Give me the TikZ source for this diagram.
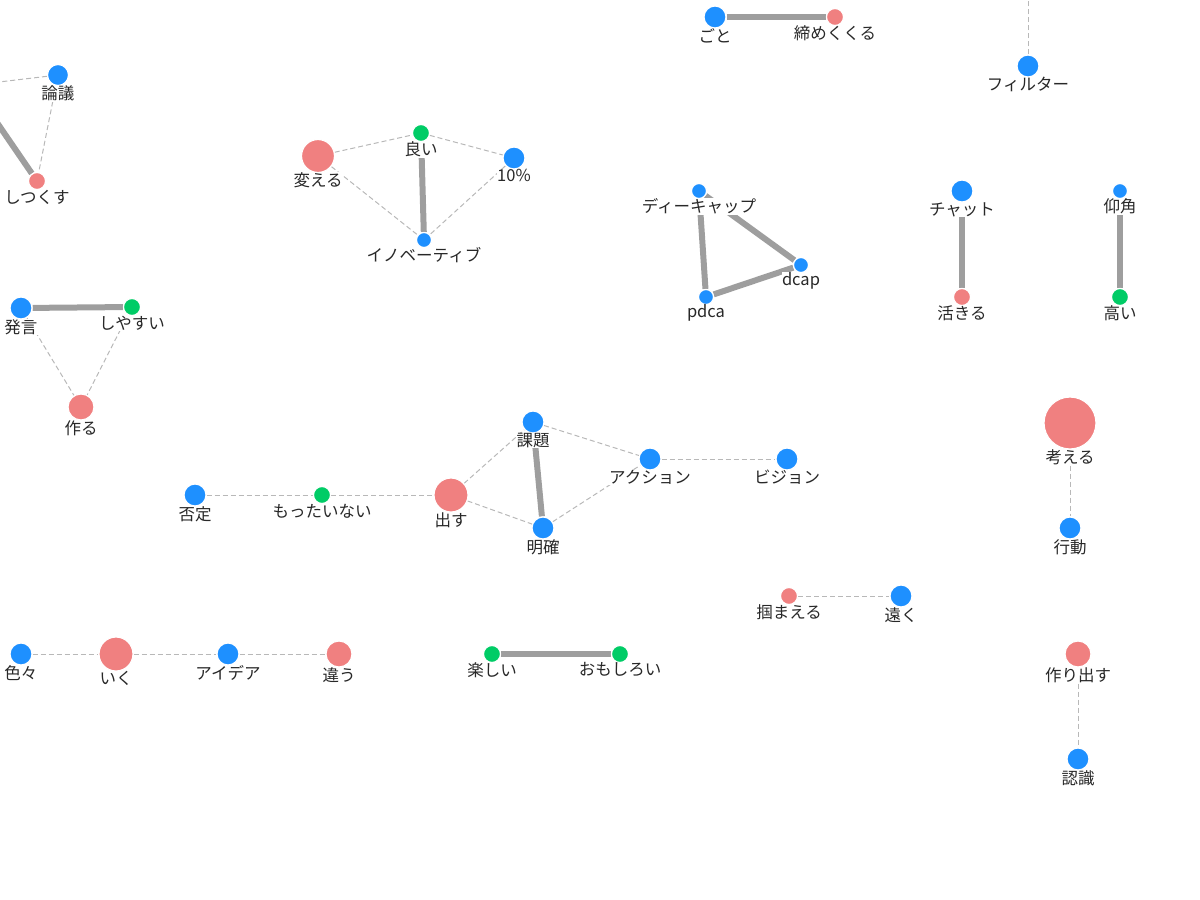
\documentclass[tikz,border=0pt]{standalone}
\usepackage{fontspec}
\newfontfamily\jpfont{Noto Sans CJK JP}
\usetikzlibrary{backgrounds}
\definecolor{nblue}{RGB}{30,144,255}
\definecolor{nred}{RGB}{240,128,128}
\definecolor{ngreen}{RGB}{0,204,102}
\definecolor{ltext}{RGB}{40,40,40}
\tikzset{
  wnode/.style={circle, fill=#1, draw=white, line width=1.2pt, inner sep=0pt},
  lbl/.style={font=\jpfont\fontsize{16.5}{17}\selectfont, text=ltext, fill=white, inner sep=0.5pt},
  every label/.style={lbl},
  label distance=-1pt,
  strong/.style={draw=black!38, line width=6pt},
  weak/.style={draw=black!28, line width=1pt, dash pattern=on 5pt off 3pt}
}
\begin{document}
\begin{tikzpicture}[x=1pt, y=-1pt]
  \useasboundingbox (0,0) rectangle (1200,900);
  % top left
  \node [wnode=nblue, minimum size=21pt, label=below:論議] (rongi) at (58,75) {};
  \node [wnode=nred, minimum size=17pt, label=below:しつくす] (tsukusu) at (37,181) {};
  \coordinate (offrongi) at (-60,89);
  \coordinate (offtsukusu) at (-37,73);
  % kaeru group
  \node [wnode=nred, minimum size=33pt, label=below:変える] (kaeru) at (318,156) {};
  \node [wnode=ngreen, minimum size=17pt, label=below:良い] (yoi) at (421,133) {};
  \node [wnode=nblue, minimum size=22pt, label=below:10\%] (pct) at (514,158) {};
  \node [wnode=nblue, minimum size=15pt, label=below:イノベーティブ] (inno) at (424,240) {};
  % top middle / right
  \node [wnode=nblue, minimum size=22pt, label=below:ごと] (goto) at (715,17) {};
  \node [wnode=nred, minimum size=17pt, label=below:締めくくる] (shime) at (835,17) {};
  \node [wnode=nblue, minimum size=22pt, label=below:フィルター] (filter) at (1028,66) {};
  \coordinate (offfilter) at (1028,-40);
  \node [wnode=nblue, minimum size=15pt, label=below:ディーキャップ] (dcapjp) at (699,191) {};
  \node [wnode=nblue, minimum size=15pt, label=below:pdca] (pdca) at (706,297) {};
  \node [wnode=nblue, minimum size=15pt, label=below:dcap] (dcap) at (801,265) {};
  \node [wnode=nblue, minimum size=22pt, label=below:チャット] (chat) at (962,191) {};
  \node [wnode=nred, minimum size=17pt, label=below:活きる] (ikiru) at (962,297) {};
  \node [wnode=nblue, minimum size=15pt, label=below:仰角] (gyoukaku) at (1120,191) {};
  \node [wnode=ngreen, minimum size=17pt, label=below:高い] (takai) at (1120,297) {};
  % hatsugen group
  \node [wnode=nblue, minimum size=22pt, label=below:発言] (hatsugen) at (21,308) {};
  \node [wnode=ngreen, minimum size=17pt, label=below:しやすい] (shiyasui) at (132,307) {};
  \node [wnode=nred, minimum size=26pt, label=below:作る] (tsukuru) at (81,407) {};
  % kangaeru
  \node [wnode=nred, minimum size=52pt, label=below:考える] (kangaeru) at (1070,423) {};
  \node [wnode=nblue, minimum size=22pt, label=below:行動] (koudou) at (1070,528) {};
  % dasu group
  \node [wnode=nblue, minimum size=22pt, label=below:否定] (hitei) at (195,495) {};
  \node [wnode=ngreen, minimum size=17pt, label=below:もったいない] (mottai) at (322,495) {};
  \node [wnode=nred, minimum size=34pt, label=below:出す] (dasu) at (451,495) {};
  \node [wnode=nblue, minimum size=22pt, label=below:課題] (kadai) at (533,422) {};
  \node [wnode=nblue, minimum size=22pt, label=below:明確] (meikaku) at (543,528) {};
  \node [wnode=nblue, minimum size=22pt, label=below:アクション] (action) at (650,459) {};
  \node [wnode=nblue, minimum size=22pt, label=below:ビジョン] (vision) at (787,459) {};
  % lower row
  \node [wnode=nred, minimum size=17pt, label=below:掴まえる] (tsukamaeru) at (789,596) {};
  \node [wnode=nblue, minimum size=22pt, label=below:遠く] (tooku) at (901,596) {};
  \node [wnode=nblue, minimum size=22pt, label=below:色々] (iroiro) at (21,654) {};
  \node [wnode=nred, minimum size=34pt, label=below:いく] (iku) at (116,654) {};
  \node [wnode=nblue, minimum size=22pt, label=below:アイデア] (idea) at (228,654) {};
  \node [wnode=nred, minimum size=26pt, label=below:違う] (chigau) at (339,654) {};
  \node [wnode=ngreen, minimum size=17pt, label=below:楽しい] (tanoshii) at (492,654) {};
  \node [wnode=ngreen, minimum size=17pt, label=below:おもしろい] (omoshiroi) at (620,654) {};
  \node [wnode=nred, minimum size=26pt, label=below:作り出す] (tsukuridasu) at (1078,654) {};
  \node [wnode=nblue, minimum size=22pt, label=below:認識] (ninshiki) at (1078,759) {};
  \begin{scope}[on background layer]
    \draw [weak] (rongi) -- (offrongi);
    \draw [strong] (tsukusu) -- (offtsukusu);
    \draw [weak] (rongi) -- (tsukusu);
    \draw [weak] (kaeru) -- (yoi);
    \draw [weak] (yoi) -- (pct);
    \draw [weak] (kaeru) -- (inno);
    \draw [weak] (pct) -- (inno);
    \draw [strong] (yoi) -- (inno);
    \draw [strong] (goto) -- (shime);
    \draw [weak] (filter) -- (offfilter);
    \draw [strong] (dcapjp) -- (pdca);
    \draw [strong] (pdca) -- (dcap);
    \draw [strong] (dcap) -- (dcapjp);
    \draw [strong] (chat) -- (ikiru);
    \draw [strong] (gyoukaku) -- (takai);
    \draw [strong] (hatsugen) -- (shiyasui);
    \draw [weak] (hatsugen) -- (tsukuru);
    \draw [weak] (shiyasui) -- (tsukuru);
    \draw [weak] (kangaeru) -- (koudou);
    \draw [weak] (hitei) -- (mottai);
    \draw [weak] (mottai) -- (dasu);
    \draw [weak] (dasu) -- (kadai);
    \draw [weak] (dasu) -- (meikaku);
    \draw [strong] (kadai) -- (meikaku);
    \draw [weak] (kadai) -- (action);
    \draw [weak] (meikaku) -- (action);
    \draw [weak] (action) -- (vision);
    \draw [weak] (tsukamaeru) -- (tooku);
    \draw [weak] (iroiro) -- (iku);
    \draw [weak] (iku) -- (idea);
    \draw [weak] (idea) -- (chigau);
    \draw [strong] (tanoshii) -- (omoshiroi);
    \draw [weak] (tsukuridasu) -- (ninshiki);
  \end{scope}
\end{tikzpicture}
\end{document}
